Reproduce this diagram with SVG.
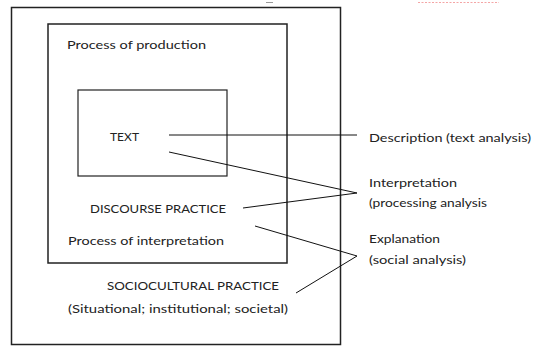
<svg xmlns="http://www.w3.org/2000/svg" width="533" height="346" viewBox="0 0 533 346">
<style>
text{font-family:"Lato","Noto Sans","Liberation Sans",sans-serif;font-size:12px;fill:#222}
.box{fill:none;stroke:#222}
.conn line,.conn polyline{fill:none;stroke:#111;stroke-width:1}
</style>
<rect width="533" height="346" fill="#fff"/>
<line x1="266" y1="2.5" x2="273" y2="2.5" stroke="#999" stroke-width="1"/>
<line x1="418" y1="2.5" x2="499" y2="2.5" stroke="#f08080" stroke-width="1.2" stroke-dasharray="2,1.5" opacity="0.7"/>
<g id="sociocultural">
<rect class="box" x="11.5" y="7.5" width="329" height="337" stroke-width="1.5" stroke="#333"/>
<text x="107" y="290" textLength="172" lengthAdjust="spacingAndGlyphs">SOCIOCULTURAL PRACTICE</text>
<text x="68" y="313" textLength="220" lengthAdjust="spacingAndGlyphs">(Situational; institutional; societal)</text>
</g>
<g id="discourse">
<rect class="box" x="48" y="24" width="239" height="239" stroke-width="1.5" stroke="#111"/>
<text x="67" y="49" textLength="139" lengthAdjust="spacingAndGlyphs">Process of production</text>
<text x="90" y="213" textLength="136" lengthAdjust="spacingAndGlyphs">DISCOURSE PRACTICE</text>
<text x="68" y="245" textLength="156" lengthAdjust="spacingAndGlyphs">Process of interpretation</text>
</g>
<g id="text-box">
<rect class="box" x="78" y="90" width="149" height="86" stroke="#777" stroke-width="1.2"/>
<text x="110" y="141" textLength="29" lengthAdjust="spacingAndGlyphs">TEXT</text>
</g>
<g id="description">
<text x="369" y="142" textLength="162" lengthAdjust="spacingAndGlyphs">Description (text analysis)</text>
</g>
<g id="interpretation">
<text x="369" y="187" textLength="88" lengthAdjust="spacingAndGlyphs">Interpretation</text>
<text x="369" y="207" textLength="118" lengthAdjust="spacingAndGlyphs">(processing analysis</text>
</g>
<g id="explanation">
<text x="369" y="243" textLength="71" lengthAdjust="spacingAndGlyphs">Explanation</text>
<text x="369" y="264" textLength="97" lengthAdjust="spacingAndGlyphs">(social analysis)</text>
</g>
<g class="conn" id="connectors">
<line x1="169" y1="135" x2="357" y2="135"/>
<polyline points="169,152 357,193 243,208"/>
<polyline points="255,226 357,256 296,293"/>
</g>
</svg>
